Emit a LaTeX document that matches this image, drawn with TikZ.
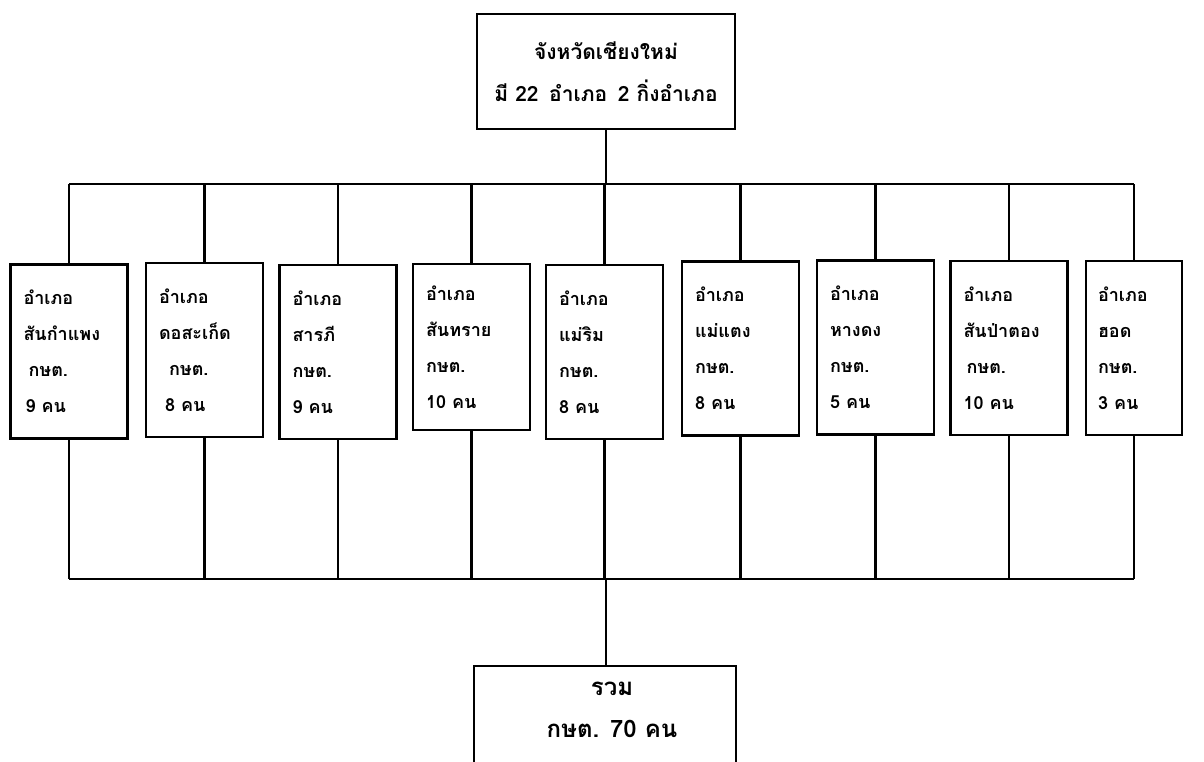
\documentclass[tikz,border=0pt]{standalone}
\usepackage{fontspec}
\newfontfamily\thaifont[Script=Thai]{Loma}
\begin{document}
\begin{tikzpicture}[x=1pt,y=-1pt,line width=2.4pt,
  box/.style={draw,line width=2.4pt,minimum width=117pt,minimum height=174pt,
    inner xsep=13pt,inner ysep=0pt,text width=91pt,align=left,
    font=\thaifont\bfseries\fontsize{18}{36}\selectfont},
  headbox/.style={draw,line width=2.4pt,minimum width=258pt,minimum height=115pt,
    align=center,font=\thaifont\bfseries\fontsize{21}{42}\selectfont},
  totbox/.style={minimum width=262pt,minimum height=86pt,
    align=center,font=\thaifont\bfseries\fontsize{24}{42}\selectfont}]
\useasboundingbox (0,0) rectangle (1204,762);
\clip (0,0) rectangle (1204,762);
\fill[white] (0,0) rectangle (1204,762);

\node[headbox] (head) at (606,71.5) {จังหวัดเชียงใหม่\\มี 22\, อำเภอ\, 2 กิ่งอำเภอ};

\node[box] (b1) at (69,351.5) {\raisebox{7pt}{\parbox[t]{91pt}{อำเภอ\\สันกำแพง\\\hspace*{5pt}กษต.\\\hspace*{2pt}9 คน}}};
\node[box] (b2) at (204.5,350) {\raisebox{7pt}{\parbox[t]{91pt}{อำเภอ\\ดอสะเก็ด\\\hspace*{10pt}กษต.\\\hspace*{6pt}8 คน}}};
\node[box] (b3) at (338,352) {\raisebox{7pt}{\parbox[t]{91pt}{อำเภอ\\สารภี\\กษต.\\9 คน}}};
\node[box,minimum height=166pt,minimum width=115pt] (b4) at (471.5,347) {\raisebox{7pt}{\parbox[t]{91pt}{อำเภอ\\สันทราย\\กษต.\\10 คน}}};
\node[box,minimum width=115pt] (b5) at (604.5,352) {\raisebox{7pt}{\parbox[t]{91pt}{อำเภอ\\แม่ริม\\กษต.\\8 คน}}};
\node[box,minimum width=115pt] (b6) at (740.5,348.5) {\raisebox{7pt}{\parbox[t]{91pt}{อำเภอ\\แม่แตง\\กษต.\\8 คน}}};
\node[box,minimum width=115pt] (b7) at (875.5,347.5) {\raisebox{7pt}{\parbox[t]{91pt}{อำเภอ\\หางดง\\กษต.\\5 คน}}};
\node[box,minimum width=116pt] (b8) at (1009,348) {\raisebox{7pt}{\parbox[t]{91pt}{อำเภอ\\สันป่าตอง\\\hspace*{3pt}กษต.\\10 คน}}};
\node[box,minimum width=96pt,text width=72pt,inner xsep=12pt] (b9) at (1134,348) {\raisebox{7pt}{\parbox[t]{72pt}{อำเภอ\\ฮอด\\กษต.\\3 คน}}};

\node[totbox] (tot) at (612,710) {รวม\\กษต. 70 คน};
\draw (474,790) -- (474,666) coordinate (tnw) -- (736,666) coordinate (tne) -- (736,790);

\coordinate (tb) at (0,184);
\coordinate (bb) at (0,579);

\draw (head.south) -- (head.south |- tb);
\draw (b1.north |- tb) -- (b9.north |- tb);
\draw (b1.south |- bb) -- (b9.south |- bb);
\foreach \i in {1,...,9}{
  \draw (b\i.north) -- (b\i.north |- tb);
  \draw (b\i.south) -- (b\i.south |- bb);
}
\draw (head.south |- bb) -- (head.south |- tnw);
\end{tikzpicture}
\end{document}
